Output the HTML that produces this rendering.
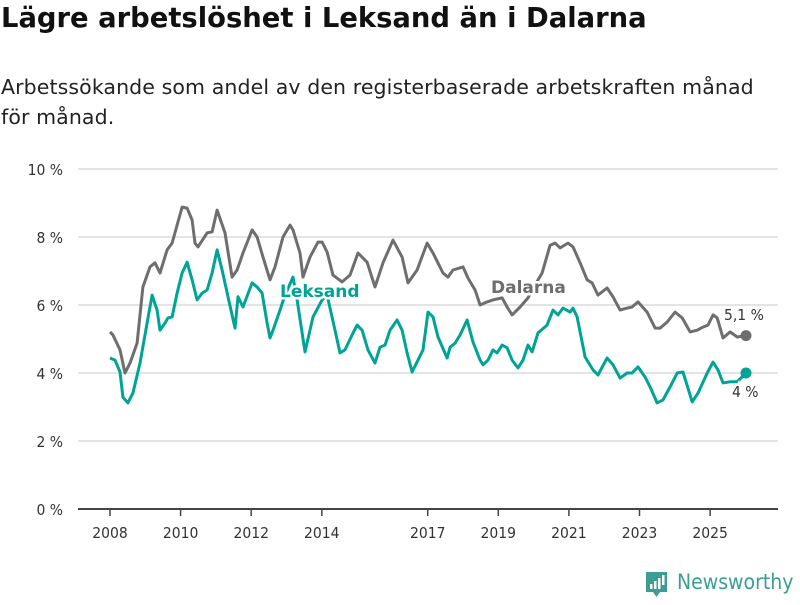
<!DOCTYPE html>
<html><head><meta charset="utf-8"><style>
body{margin:0;background:#fff;width:800px;height:600px;overflow:hidden;font-family:"Liberation Sans",sans-serif;}
#wrap{position:relative;width:800px;height:600px;}
h1{position:absolute;left:1px;top:3px;margin:0;font-size:27.4px;font-weight:bold;color:#111;font-family:"DejaVu Sans","Liberation Sans",sans-serif;white-space:nowrap;}
.sub{position:absolute;left:1px;top:72px;margin:0;font-size:20.5px;line-height:30px;color:#222;width:799px;font-family:"DejaVu Sans","Liberation Sans",sans-serif;white-space:nowrap;letter-spacing:0.1px;}
</style></head><body><div id="wrap">
<h1>Lägre arbetslöshet i Leksand än i Dalarna</h1>
<p class="sub">Arbetssökande som andel av den registerbaserade arbetskraften månad<br>för månad.</p>
<svg id="chart" width="800" height="600" style="position:absolute;left:0;top:0"></svg>
<div style="position:absolute;left:645px;top:570px;">
<svg width="24" height="30"><path d="M1 2h21v20h-7l-3.5 5-3.5-5H1z" fill="#3a9e93"/><rect x="5" y="14" width="2.5" height="5" fill="#fff"/><rect x="9" y="11" width="2.5" height="8" fill="#fff"/><rect x="13" y="8" width="2.5" height="11" fill="#fff"/><rect x="17" y="5" width="2.5" height="10" fill="#fff"/></svg>
<span style="position:absolute;left:32px;top:0px;font-size:21px;color:#3a9e93;font-family:'DejaVu Sans Condensed','Liberation Sans',sans-serif;">Newsworthy</span>
</div>
</div>
<script>
// months since Jan 2008
const dalMonths=[0,1,3.4,5.1,6.8,9.2,11.2,13.6,15.3,17,19.4,21.1,24.5,26.2,27.9,28.9,29.9,33,34.7,36.4,39.1,41.5,43.2,45.2,48.3,50,52,54.4,56.1,58.8,61.2,62.2,64.6,65.6,68,70.7,72.1,73.8,75.8,78.9,81.6,84.3,87.4,90.1,92.8,96.2,99.3,101.3,104.4,107.8,109.8,113.2,114.9,116.6,120,121.7,124.1,125.8,128.2,130.2,133.3,135,136.7,139.4,142.1,144.5,146.9,149.6,151.3,153,155.7,157.4,159.8,162.2,163.9,165.9,169,171,173.4,175.8,177.5,179.5,182.6,185.3,187,189.4,192.1,194.5,197.2,199.6,201.6,203.3,205,206.4,208.4,210.8,213.2,216.2];
const dalValues=[5.21,5.12,4.68,4.0,4.29,4.88,6.53,7.12,7.24,6.94,7.62,7.82,8.88,8.85,8.5,7.82,7.71,8.12,8.15,8.79,8.12,6.82,7.03,7.53,8.21,8.0,7.41,6.74,7.12,8.0,8.35,8.21,7.53,6.82,7.41,7.85,7.85,7.56,6.88,6.68,6.88,7.53,7.26,6.53,7.24,7.91,7.41,6.65,7.03,7.82,7.53,6.94,6.82,7.03,7.12,6.79,6.44,6.0,6.09,6.15,6.21,5.94,5.71,5.94,6.21,6.59,6.94,7.76,7.82,7.68,7.82,7.71,7.24,6.74,6.65,6.29,6.5,6.24,5.85,5.91,5.94,6.09,5.79,5.32,5.32,5.5,5.79,5.62,5.21,5.26,5.35,5.41,5.71,5.62,5.03,5.21,5.06,5.1];
const lekMonths=[0,1.7,3.4,4.4,6.1,7.8,10.2,12.6,14.3,16,17,18.7,19.7,21.1,22.8,24.5,26.2,27.9,29.6,31.3,33,34.7,36.4,38.1,40.1,42.5,43.5,45.2,48.3,50,51.7,53.4,54.4,55.4,57.8,59.5,62.2,63.6,66.3,69,72.1,73.8,76.5,78.2,79.9,82.3,84,85.7,87.7,90.1,91.8,93.5,95.2,97.6,99.3,101,102.7,104.7,106.4,108.1,109.8,111.5,114.6,115.6,117.3,119,121.4,123.4,125.8,126.8,128.5,130.2,131.6,133.3,135,136.7,138.7,140.4,142.1,143.5,145.5,148.6,150.6,152.3,154,156.4,157.4,158.8,161.5,164.2,165.9,169,171,173.4,175.8,177.5,179.5,181.9,183.6,186,188,190.4,192.8,194.8,197.9,199.9,203,205,206.7,208.4,210.8,213.2,216.2];
const lekValues=[4.44,4.38,4.03,3.29,3.12,3.41,4.29,5.47,6.29,5.85,5.26,5.47,5.62,5.65,6.35,6.94,7.26,6.74,6.15,6.35,6.44,6.94,7.62,7.03,6.24,5.32,6.24,5.94,6.65,6.53,6.35,5.47,5.03,5.26,5.85,6.29,6.82,6.15,4.62,5.65,6.15,6.29,5.26,4.59,4.68,5.12,5.41,5.26,4.68,4.29,4.76,4.82,5.26,5.56,5.26,4.59,4.03,4.38,4.68,5.79,5.65,5.06,4.44,4.76,4.88,5.12,5.56,4.91,4.38,4.24,4.38,4.68,4.59,4.82,4.74,4.38,4.15,4.38,4.82,4.62,5.18,5.41,5.85,5.71,5.91,5.79,5.91,5.65,4.47,4.09,3.94,4.44,4.24,3.85,4.0,4.0,4.18,3.88,3.59,3.12,3.21,3.59,4.0,4.03,3.15,3.41,4.0,4.32,4.09,3.71,3.74,3.74,4.0];
const yTicks=[0,2,4,6,8,10];
const xTickYears=[2008,2010,2012,2014,2017,2019,2021,2023,2025];
const lastLabels=["5,1 %","4 %"];
const NS="http://www.w3.org/2000/svg";
const svg=document.getElementById('chart');
const X0=110,PX_PER_YEAR=35.3,Y0=509,PX_PER_PCT=34;
const FONT="DejaVu Sans Condensed, Liberation Sans, sans-serif";
function xm(m){return X0+m/12*PX_PER_YEAR;}
function xy(yr){return X0+(yr-2008)*PX_PER_YEAR;}
function yv(v){return Y0-v*PX_PER_PCT;}
function mk(tag,attrs){const e=document.createElementNS(NS,tag);for(const k in attrs)e.setAttribute(k,attrs[k]);svg.appendChild(e);return e;}
yTicks.forEach(t=>{
  if(t>0){const g=mk('line',{x1:78,x2:778,y1:yv(t),y2:yv(t),stroke:'#dcdcdc','stroke-width':1.5});
  
  }
  const l=mk('text',{x:63,y:yv(t)+6,'text-anchor':'end','font-size':15.5,fill:'#333','font-family':FONT});
  l.textContent=t+' %';
  
  
});
const ax=mk('line',{x1:78,x2:778,y1:Y0,y2:Y0,stroke:'#444','stroke-width':2});


xTickYears.forEach(yr=>{
  const tk=mk('line',{x1:xy(yr),x2:xy(yr),y1:Y0,y2:Y0+7,stroke:'#444','stroke-width':1.5});
  
  
  const l=mk('text',{x:xy(yr),y:538,'text-anchor':'middle','font-size':15.5,fill:'#333','font-family':FONT});
  l.textContent=yr;
  
  
});
function line(ms,vs,color,name){
  const d=ms.map((m,i)=>(i?'L':'M')+xm(m).toFixed(1)+','+yv(vs[i]).toFixed(1)).join('');
  const p=mk('path',{d:d,fill:'none',stroke:color,'stroke-width':3,'stroke-linejoin':'round'});
  
  
  const n=ms.length-1;
  const c=mk('circle',{cx:xm(ms[n]),cy:yv(vs[n]),r:5.5,fill:color});
  
  
}
line(dalMonths,dalValues,'#6e6e6e','dalarna-line');
line(lekMonths,lekValues,'#00a497','leksand-line');
function lbl(txt,x,y,color,name,bold,size,font){
  const t=mk('text',{x:x,y:y,'font-size':size,'font-weight':bold?'bold':'normal',fill:color,stroke:'#fff','stroke-width':bold?5:4,'paint-order':'stroke','font-family':font});
  t.textContent=txt;
  
  
}
lbl('Leksand',280,297,'#00a497','leksand-label',true,17,'DejaVu Sans, sans-serif');
lbl('Dalarna',491,293,'#6e6e6e','dalarna-label',true,17,'DejaVu Sans, sans-serif');
lbl(lastLabels[0],724,320,'#333','dalarna-last-value',false,15.5,FONT);
lbl(lastLabels[1],732,397,'#333','leksand-last-value',false,15.5,FONT);
</script>
</body></html>
